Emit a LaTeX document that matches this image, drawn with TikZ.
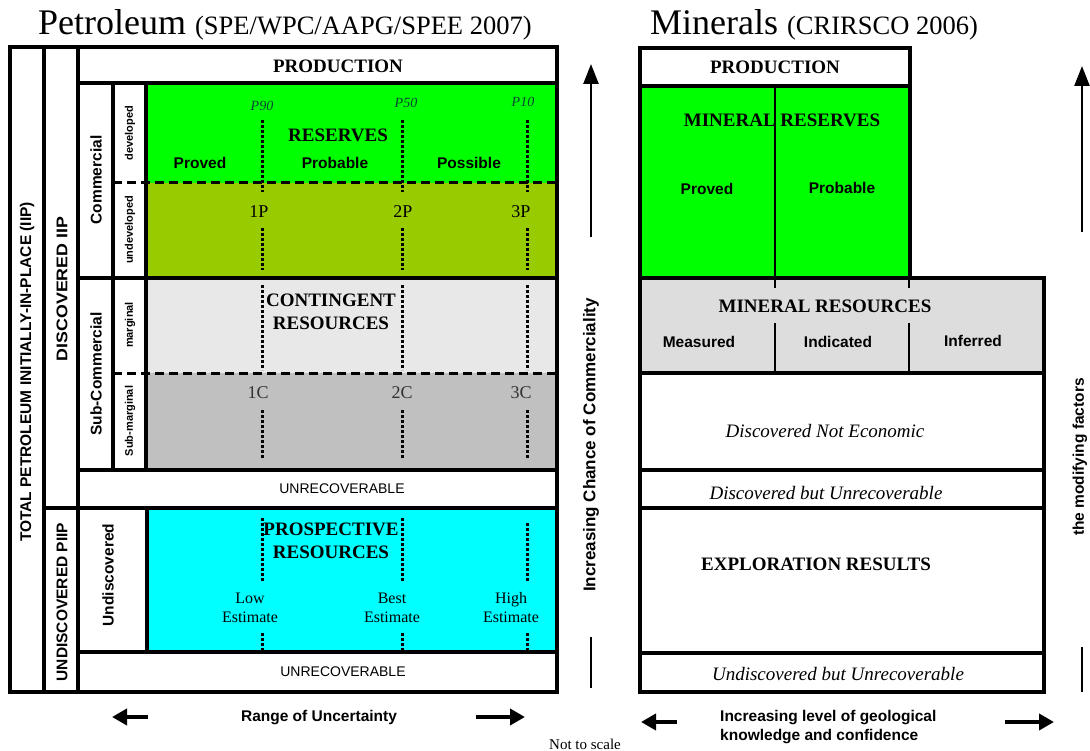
\documentclass[tikz,border=0pt]{standalone}
\usepackage{fontspec}
\setmainfont{Liberation Serif}
\setsansfont{Liberation Sans}
\usetikzlibrary{arrows.meta}

\definecolor{resgreen}{RGB}{0,255,0}
\definecolor{undevolive}{RGB}{153,204,0}
\definecolor{contlight}{RGB}{232,232,232}
\definecolor{contdark}{RGB}{192,192,192}
\definecolor{prospcyan}{RGB}{0,255,255}
\definecolor{minlight}{RGB}{221,221,221}
\definecolor{pgreen}{RGB}{0,70,50}
\definecolor{cgray}{RGB}{50,50,50}

\tikzset{
  frame/.style={draw, line width=3.5pt},
  sepline/.style={draw, line width=1.2pt},
  dashsep/.style={draw, line width=3pt, dash pattern=on 9pt off 5pt},
  dotsep/.style={draw, line width=3pt, dash pattern=on 3pt off 2pt},
  heading/.style={font=\bfseries\fontsize{19}{23}\selectfont, align=center},
  sflabel/.style={font=\sffamily\bfseries\fontsize{15.5}{19}\selectfont, align=left},
  collabel/.style={font=\sffamily\bfseries\fontsize{15.5}{19}\selectfont, rotate=90},
  sublabel/.style={font=\sffamily\bfseries\fontsize{11}{13}\selectfont, rotate=90},
  unrec/.style={font=\sffamily\fontsize{14}{17}\selectfont},
  italbox/.style={font=\itshape\fontsize{19}{23}\selectfont},
  plabel/.style={font=\itshape\fontsize{14}{17}\selectfont, text=pgreen},
  cumlabel/.style={font=\fontsize{18}{22}\selectfont},
  estlabel/.style={font=\fontsize{16}{19}\selectfont, align=center},
  bigarrow/.style={line width=2.5pt, -{Triangle[width=15pt,length=20pt]}},
  bararrow/.style={line width=4pt, -{Triangle[width=16pt,length=15pt]}},
  plainbar/.style={line width=2.5pt}
}

\begin{document}
\begin{tikzpicture}[x=1pt, y=-1pt]
  \useasboundingbox (0,0) rectangle (1090,751);

  % titles
  \node[anchor=base west, inner sep=0] (pettitle) at (38,35)
    {\fontsize{36}{40}\selectfont Petroleum \fontsize{26.5}{30}\selectfont (SPE/WPC/AAPG/SPEE 2007)};
  \node[anchor=base west, inner sep=0] (mintitle) at (650,35)
    {\fontsize{36}{40}\selectfont Minerals \fontsize{26.5}{30}\selectfont (CRIRSCO 2006)};

  % petroleum fills
  \fill[resgreen] (146,83) rectangle (557,183);
  \fill[undevolive] (146,183) rectangle (557,278);
  \fill[contlight] (146,278) rectangle (557,373);
  \fill[contdark] (146,373) rectangle (557,470);
  \fill[prospcyan] (147,508) rectangle (557,652);

  % dotted uncertainty lines
  \foreach \px in {262,402,527} {
    \draw[dotsep] (\px,120) -- (\px,192);
    \draw[dotsep] (\px,228) -- (\px,270);
    \draw[dotsep] (\px,285) -- (\px,370);
    \draw[dotsep] (\px,410) -- (\px,458);
  }
  \foreach \px/\ps in {262/518,402/518,527/523} {
    \draw[dotsep] (\px,\ps) -- (\px,582);
    \draw[dotsep] (\px,633) -- (\px,650);
  }
  \draw[dashsep] (113,183) -- (557,183);
  \draw[dashsep] (113,373) -- (557,373);

  % petroleum frames
  \draw[frame] (10,47) rectangle (44,692);
  \draw[frame] (44,47) rectangle (78,508);
  \draw[frame] (44,508) rectangle (78,692);
  \draw[frame] (78,47) rectangle (557,83);
  \draw[frame] (78,83) rectangle (113,278);
  \draw[frame] (113,83) rectangle (146,278);
  \draw[frame] (146,83) rectangle (557,278);
  \draw[frame] (78,278) rectangle (113,470);
  \draw[frame] (113,278) rectangle (146,470);
  \draw[frame] (146,278) rectangle (557,470);
  \draw[frame] (78,470) rectangle (557,508);
  \draw[frame] (78,508) rectangle (147,652);
  \draw[frame] (147,508) rectangle (557,652);
  \draw[frame] (78,652) rectangle (557,692);

  % petroleum texts
  \node[collabel] (tiip) at (27,372) {TOTAL PETROLEUM INITIALLY-IN-PLACE (IIP)};
  \node[collabel, xscale=1.15] (diip) at (62,289) {DISCOVERED IIP};
  \node[collabel] (uiip) at (62,602) {UNDISCOVERED PIIP};
  \node[collabel] (comm) at (96,180) {Commercial};
  \node[collabel] (subcomm) at (96,374) {Sub-Commercial};
  \node[sublabel] (dev) at (130,133) {developed};
  \node[sublabel] (undev) at (130,230) {undeveloped};
  \node[sublabel] (marg) at (130,325) {marginal};
  \node[sublabel] (submarg) at (130,421) {Sub-marginal};
  \node[collabel] (undisc) at (108,575) {Undiscovered};

  \node[heading] (prod) at (338,66) {PRODUCTION};
  \node[heading] (reserves) at (338,135) {RESERVES};
  \node[sflabel] (proved) at (200,163) {Proved};
  \node[sflabel] (probable) at (335,163) {Probable};
  \node[sflabel] (possible) at (469,163) {Possible};
  \node[plabel] (p90) at (262,106) {P90};
  \node[plabel] (p50) at (406,103) {P50};
  \node[plabel] (p10) at (523,102) {P10};
  \node[cumlabel] (onep) at (259,212) {1P};
  \node[cumlabel] (twop) at (403,212) {2P};
  \node[cumlabel] (threep) at (521,212) {3P};

  \node[heading] (contingent) at (331,312) {CONTINGENT\\RESOURCES};
  \node[cumlabel, text=cgray] (onec) at (258,393) {1C};
  \node[cumlabel, text=cgray] (twoc) at (402,393) {2C};
  \node[cumlabel, text=cgray] (threec) at (521,393) {3C};
  \node[unrec] (unrecone) at (342,489) {UNRECOVERABLE};

  \node[heading] (prospective) at (331,541) {PROSPECTIVE\\RESOURCES};
  \node[estlabel] (lowest) at (250,608) {Low\\Estimate};
  \node[estlabel] (bestest) at (392,608) {Best\\Estimate};
  \node[estlabel] (highest) at (511,608) {High\\Estimate};
  \node[unrec] (unrectwo) at (343,672) {UNRECOVERABLE};

  % petroleum axes
  \node[sflabel] (range) at (319,718) {Range of Uncertainty};
  \coordinate (rl1) at (148,717);
  \coordinate (rl2) at (112,717);
  \coordinate (rr1) at (476,717);
  \coordinate (rr2) at (525,717);
  \draw[bararrow] (rl1) -- (rl2);
  \draw[bararrow] (rr1) -- (rr2);
  \node[font=\fontsize{15}{18}\selectfont] (scale) at (585,744) {Not to scale};

  \node[collabel, font=\sffamily\bfseries\fontsize{17}{20}\selectfont] (chance) at (591,445)
    {Increasing Chance of Commerciality};
  \coordinate (cu1) at (591,237);
  \coordinate (cu2) at (591,64);
  \coordinate (cb1) at (591,637);
  \coordinate (cb2) at (591,688);
  \draw[bigarrow] (cu1) -- (cu2);
  \draw[plainbar] (cb1) -- (cb2);

  % minerals fills
  \fill[resgreen] (640,86) rectangle (910,278);
  \fill[minlight] (640,278) rectangle (1044,373);
  \draw[sepline] (775,86) -- (775,288);
  \draw[sepline] (909,278) -- (909,288);
  \draw[sepline] (775,323) -- (775,373);
  \draw[sepline] (909,323) -- (909,373);

  % minerals frames
  \draw[frame] (640,48) rectangle (910,86);
  \draw[frame] (640,86) rectangle (910,278);
  \draw[frame] (640,278) rectangle (1044,373);
  \draw[frame] (640,373) rectangle (1044,470);
  \draw[frame] (640,470) rectangle (1044,508);
  \draw[frame] (640,508) rectangle (1044,653);
  \draw[frame] (640,653) rectangle (1044,692);

  % minerals texts
  \node[heading] (mprod) at (775,67) {PRODUCTION};
  \node[heading] (mreserves) at (782,120) {MINERAL RESERVES};
  \node[sflabel] (mproved) at (707,189) {Proved};
  \node[sflabel] (mprobable) at (842,188) {Probable};
  \node[heading] (mresources) at (825,306) {MINERAL RESOURCES};
  \node[sflabel] (measured) at (699,342) {Measured};
  \node[sflabel] (indicated) at (838,342) {Indicated};
  \node[sflabel] (inferred) at (973,341) {Inferred};
  \node[italbox] (notecon) at (825,431) {Discovered Not Economic};
  \node[italbox] (discunrec) at (826,493) {Discovered but Unrecoverable};
  \node[heading] (explor) at (816,564) {EXPLORATION RESULTS};
  \node[italbox] (undiscunrec) at (838,674) {Undiscovered but Unrecoverable};

  % minerals axes
  \node[sflabel, anchor=west, inner sep=0] (knowledge) at (720,727)
    {Increasing level of geological\\knowledge and confidence};
  \coordinate (ml1) at (677,722);
  \coordinate (ml2) at (641,722);
  \coordinate (mr1) at (1005,722);
  \coordinate (mr2) at (1054,722);
  \draw[bararrow] (ml1) -- (ml2);
  \draw[bararrow] (mr1) -- (mr2);

  \node[collabel] (modfac) at (1080,457) {the modifying factors};
  \coordinate (mu1) at (1082,232);
  \coordinate (mu2) at (1082,66);
  \coordinate (mb1) at (1082,647);
  \coordinate (mb2) at (1082,692);
  \draw[bigarrow] (mu1) -- (mu2);
  \draw[plainbar] (mb1) -- (mb2);
\end{tikzpicture}
\end{document}
